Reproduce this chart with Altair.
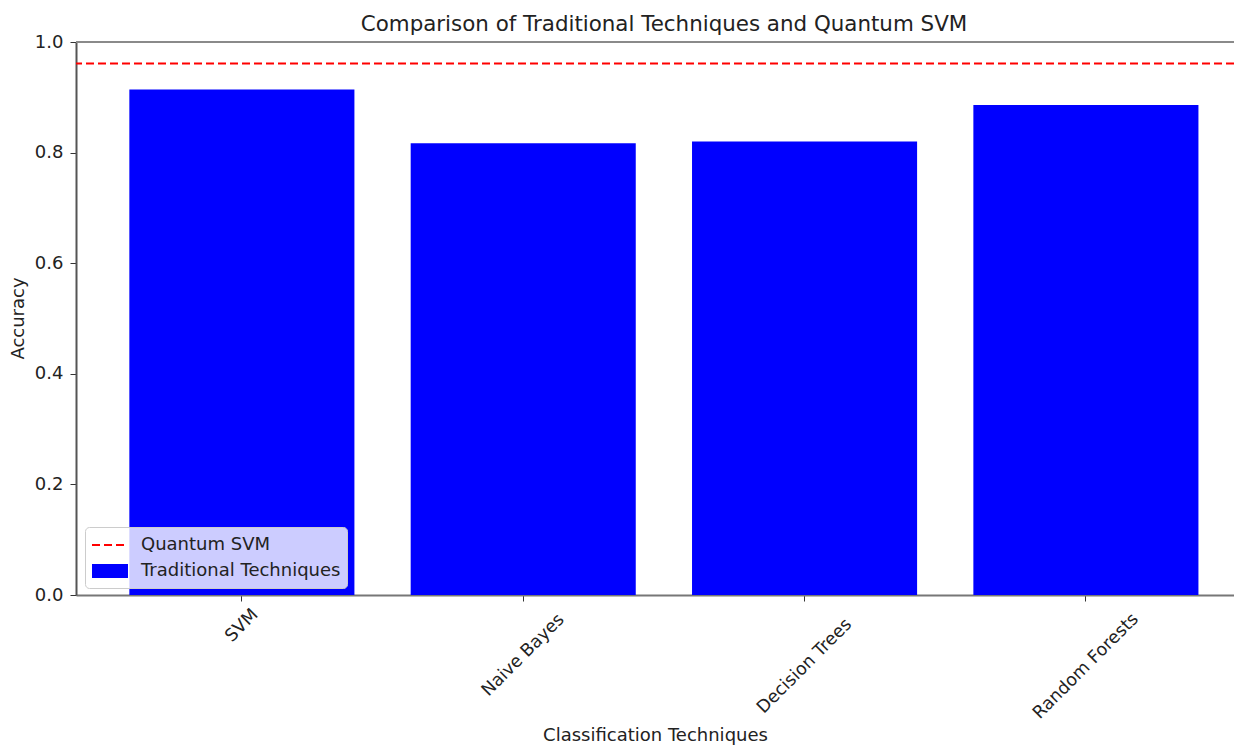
import altair as alt
import pandas as pd

categories = ["SVM", "Naive Bayes", "Decision Trees", "Random Forests"]
accuracy = [0.914, 0.817, 0.820, 0.886]
quantum_accuracy = [0.961]
series_names = ["Quantum SVM", "Traditional Techniques"]
series_fill = ["transparent", "blue"]
series_stroke = ["red", "transparent"]
series_shape = ["M-1.636,0H1.636", "M-1.636,-0.636H1.636V0.636H-1.636Z"]
series_dash = [[8, 4], [1, 0]]
y_ticks = [0.0, 0.2, 0.4, 0.6, 0.8, 1.0]
frame_top = [1.0]

FONT = "DejaVu Sans"
TXT = "#222222"

bars_df = pd.DataFrame({"technique": categories, "accuracy": accuracy,
                        "series": [series_names[1]] * len(categories)})
quantum_df = pd.DataFrame({"accuracy": quantum_accuracy, "series": [series_names[0]]})
frame_df = pd.DataFrame({"top": frame_top})

fill_scale = alt.Scale(domain=series_names, range=series_fill)
stroke_scale = alt.Scale(domain=series_names, range=series_stroke)
shape_scale = alt.Scale(domain=series_names, range=series_shape)
dash_scale = alt.Scale(domain=series_names, range=series_dash)

legend = alt.Legend(
    title=None, orient="none", legendX=9, legendY=485,
    fillColor="rgba(255,255,255,0.8)", strokeColor="#cccccc", cornerRadius=4,
    padding=6, labelFontSize=18, labelFont=FONT, labelColor=TXT, labelLimit=0,
    symbolSize=484, rowPadding=5, labelOffset=19, symbolOffset=7,
    symbolStrokeWidth=2, symbolOpacity=1,
)

x_axis = alt.Axis(
    title="Classification Techniques", titleFont=FONT, titleFontSize=18,
    titleFontWeight="normal", titleColor=TXT, titleY=140, titleBaseline="middle",
    labelAngle=315, labelAlign="center", labelBaseline="middle", labelFont=FONT,
    labelFontSize=17.5, labelColor=TXT,
    labelPadding={"condition": {"test": "length(datum.label) > 0",
                                "expr": "13 + 3.7*length(datum.label)"},
                  "value": 13},
    tickSize=6, tickColor="#333333", domainColor="#777777", domainWidth=2,
)

y_axis = alt.Axis(
    title="Accuracy", values=y_ticks, format=".1f", grid=False,
    titleFont=FONT, titleFontSize=18, titleFontWeight="normal", titleColor=TXT,
    titleX=-58, titleY=276, titleBaseline="middle", titleAlign="center",
    labelFont=FONT, labelFontSize=18, labelColor=TXT, labelPadding=7,
    tickSize=6, tickColor="#333333", domainColor="#555555", domainWidth=2,
)

y_scale = alt.Scale(domain=[0, 1], nice=False)

bars = alt.Chart(bars_df).mark_bar(opacity=1).encode(
    x=alt.X("technique:N", sort=categories,
            scale=alt.Scale(domain=categories, paddingInner=0.2, paddingOuter=0.158, align=0.6),
            axis=x_axis),
    y=alt.Y("accuracy:Q", scale=y_scale, axis=y_axis),
    fill=alt.Fill("series:N", scale=fill_scale, legend=legend),
)

quantum = alt.Chart(quantum_df).mark_rule(strokeWidth=2, opacity=1).encode(
    y=alt.Y("accuracy:Q", scale=y_scale, axis=y_axis),
    stroke=alt.Stroke("series:N", scale=stroke_scale, legend=legend),
    strokeDash=alt.StrokeDash("series:N", scale=dash_scale, legend=legend),
)

topline = alt.Chart(frame_df).mark_rule(color="#8a8a8a", strokeWidth=2).encode(
    y=alt.Y("top:Q", scale=y_scale, axis=y_axis),
)

legend_keys = alt.Chart(quantum_df).transform_filter("false").mark_point(
    filled=True, opacity=1
).encode(
    fill=alt.Fill("series:N", scale=fill_scale, legend=legend),
    stroke=alt.Stroke("series:N", scale=stroke_scale, legend=legend),
    shape=alt.Shape("series:N", scale=shape_scale, legend=legend),
    strokeDash=alt.StrokeDash("series:N", scale=dash_scale, legend=legend),
)

chart = alt.layer(bars, quantum, topline, legend_keys).properties(
    width=1158, height=553,
    padding={"left": 68, "top": 34, "right": 0, "bottom": 150},
    autosize=alt.AutoSizeParams(type="none"),
    title=alt.TitleParams(
        "Comparison of Traditional Techniques and Quantum SVM",
        font=FONT, fontSize=21.4, fontWeight="normal", color=TXT,
        anchor="middle", frame="group", baseline="alphabetic", offset=11, dx=9, dy=30,
    ),
).configure_view(stroke="transparent").configure(background="white")

chart.save("out.html", embed_options={"renderer": "svg", "actions": False})
